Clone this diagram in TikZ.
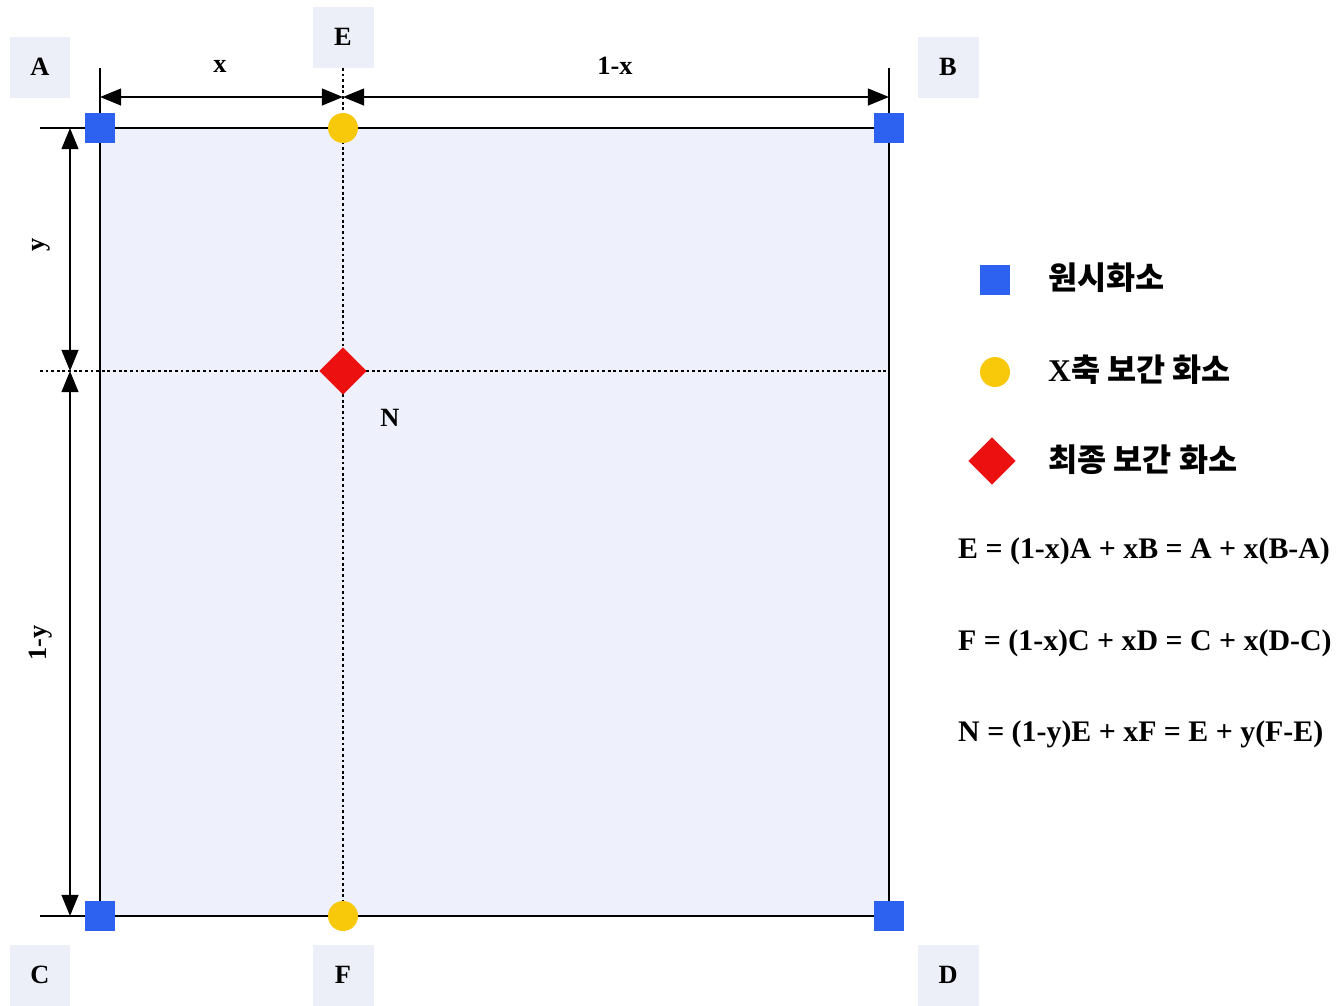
\documentclass[tikz,border=0pt]{standalone}
\usepackage{fontspec}
\setmainfont{Liberation Serif}
\newfontfamily\kofont{Noto Sans CJK KR}
\definecolor{cellfill}{RGB}{238,241,252}
\definecolor{labfill}{RGB}{236,239,248}
\definecolor{pixblue}{RGB}{45,98,240}
\definecolor{pixyellow}{RGB}{248,200,10}
\definecolor{pixred}{RGB}{236,16,16}
\usetikzlibrary{arrows.meta, positioning, shapes.geometric}

\begin{document}
\begin{tikzpicture}[
    x=0.02cm, y=-0.02cm,
    edge/.style={line width=1.5pt},
    guide/.style={line width=1.6pt, dash pattern=on 1.6pt off 1.6pt},
    dim/.style={{Triangle[length=12pt,width=9.5pt]}-{Triangle[length=12pt,width=9.5pt]}, line width=1.2pt},
    lab/.style={fill=labfill, minimum size=1.22cm, inner sep=0pt, font=\bfseries\fontsize{15}{18}\selectfont},
    dimlab/.style={font=\bfseries\fontsize{15}{18}\selectfont},
    orig/.style={rectangle, fill=pixblue, minimum size=0.6cm, inner sep=0pt},
    xint/.style={circle, fill=pixyellow, minimum size=0.6cm, inner sep=0pt},
    fin/.style={diamond, fill=pixred, minimum size=0.95cm, inner sep=0pt},
    legend/.style={anchor=west, font=\bfseries\fontsize{18}{21}\selectfont},
    eqn/.style={anchor=west, font=\bfseries\fontsize{17}{20}\selectfont}
  ]
  \useasboundingbox (0,0) rectangle (1337,1005);

  % pixel grid
  \coordinate (cA) at (100,128);
  \coordinate (cB) at (889,128);
  \coordinate (cC) at (100,916);
  \coordinate (cD) at (889,916);
  \coordinate (cE) at (343,128);
  \coordinate (cF) at (343,916);
  \coordinate (cN) at (343,371);
  \coordinate (xA) at (100,68);
  \coordinate (xB) at (889,68);
  \coordinate (xE) at (343,68);
  \coordinate (yA) at (40,128);
  \coordinate (yC) at (40,916);
  \coordinate (yN) at (40,371);
  \coordinate (rN) at (889,371);

  \fill[cellfill] (cA) rectangle (cD);
  \draw[edge] (yA) -- (cB);
  \draw[edge] (yC) -- (cD);
  \draw[edge] (xA) -- (cC);
  \draw[edge] (xB) -- (cD);
  \draw[guide] (xE) -- (cF);
  \draw[guide] (yN) -- (rN);

  % dimensions
  \coordinate (dA) at (100,97);
  \coordinate (dE) at (343,97);
  \coordinate (dB) at (889,97);
  \coordinate (dT) at (70,128);
  \coordinate (dN) at (70,371);
  \coordinate (dC) at (70,916);
  \draw[dim] (dA) -- (dE);
  \draw[dim] (dE) -- (dB);
  \draw[dim] (dT) -- (dN);
  \draw[dim] (dN) -- (dC);
  \node[dimlab] (lx)  at (220,66) {x};
  \node[dimlab] (l1x) at (615,66) {1-x};
  \node[dimlab, rotate=90] (ly)  at (41,245) {y};
  \node[dimlab, rotate=90] (l1y) at (41,643) {1-y};

  % pixels
  \node[orig] (pA) at (cA) {};
  \node[orig] (pB) at (cB) {};
  \node[orig] (pC) at (cC) {};
  \node[orig] (pD) at (cD) {};
  \node[xint] (pE) at (cE) {};
  \node[xint] (pF) at (cF) {};
  \node[fin]  (pN) at (cN) {};

  \node[lab] (lA) at (40,67)   {A};
  \node[lab] (lE) at (343,37)  {E};
  \node[lab] (lB) at (948,67)  {B};
  \node[lab] (lC) at (40,975)  {C};
  \node[lab] (lF) at (343,975) {F};
  \node[lab] (lD) at (948,975) {D};
  \node[dimlab] (lN) at (390,418) {N};

  % legend
  \node[orig] (kO) at (995,280) {};
  \node[xint] (kX) at (995,372) {};
  \node[fin]  (kN) at (992,461) {};
  \node[legend] (tO) at (1042,278) {\kofont 원시화소};
  \node[legend] (tX) at (1042,370) {X{\kofont 축 보간 화소}};
  \node[legend] (tN) at (1042,460) {\kofont 최종 보간 화소};

  % equations
  \node[eqn] (eqE) at (952,551) {E = (1-x)A + xB = A + x(B-A)};
  \node[eqn] (eqF) at (952,643) {F = (1-x)C + xD = C + x(D-C)};
  \node[eqn] (eqN) at (952,734) {N = (1-y)E + xF = E + y(F-E)};
\end{tikzpicture}
\end{document}
